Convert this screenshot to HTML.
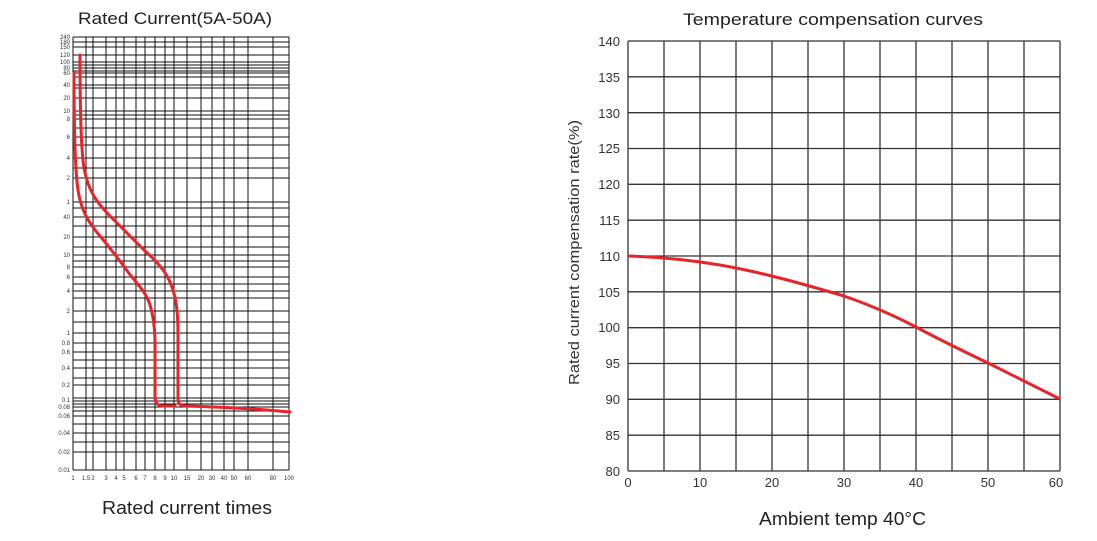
<!DOCTYPE html>
<html><head><meta charset="utf-8"><style>
html,body{margin:0;padding:0;background:#fff;}
svg{display:block;font-family:"Liberation Sans",sans-serif;}
</style></head><body>
<svg width="1097" height="541" viewBox="0 0 1097 541" xmlns="http://www.w3.org/2000/svg">
<rect width="1097" height="541" fill="#fff"/>
<!-- LEFT CHART -->
<text x="78" y="24" font-size="17" textLength="194" lengthAdjust="spacingAndGlyphs" fill="#222">Rated Current(5A-50A)</text>
<g stroke="#111" stroke-width="1">
<line x1="73" y1="37" x2="73" y2="470"/><line x1="86" y1="37" x2="86" y2="470"/><line x1="93" y1="37" x2="93" y2="470"/>
<line x1="106" y1="37" x2="106" y2="470"/><line x1="116" y1="37" x2="116" y2="470"/><line x1="124" y1="37" x2="124" y2="470"/>
<line x1="136" y1="37" x2="136" y2="470"/><line x1="145" y1="37" x2="145" y2="470"/><line x1="155" y1="37" x2="155" y2="470"/>
<line x1="165" y1="37" x2="165" y2="470"/><line x1="174" y1="37" x2="174" y2="470"/><line x1="187" y1="37" x2="187" y2="470"/>
<line x1="201" y1="37" x2="201" y2="470"/><line x1="212" y1="37" x2="212" y2="470"/><line x1="224" y1="37" x2="224" y2="470"/>
<line x1="234" y1="37" x2="234" y2="470"/><line x1="248" y1="37" x2="248" y2="470"/><line x1="273" y1="37" x2="273" y2="470"/>
<line x1="289" y1="37" x2="289" y2="470"/>
</g>
<g stroke="#111" stroke-width="1">
<path d="M73 37H289M73 42H289M73 47H289M73 55H289M73 62H289M73 65H289M73 68H289M73 71H289M73 73H289M73 77H289M73 85H289M73 88H289M73 98H289M73 111H289M73 115H289M73 119H289M73 128H289M73 137H289M73 145H289M73 158H289M73 168H289M73 178H289M73 202H289M73 208H289M73 217H289M73 226H289M73 237H289M73 247H289M73 255H289M73 261H289M73 267H289M73 277H289M73 284H289M73 291H289M73 298H289M73 311H289M73 322H289M73 333H289M73 343H289M73 352H289M73 360H289M73 368H289M73 378H289M73 385H289M73 398H289M73 401H289M73 404H289M73 407H289M73 411H289M73 416H289M73 424H289M73 433H289M73 442H289M73 452H289M73 470H289"/>
</g>
<g font-size="6" fill="#333" text-anchor="end">
<text x="70" y="39">240</text><text x="70" y="44">180</text><text x="70" y="49">150</text><text x="70" y="57">120</text><text x="70" y="64">100</text><text x="70" y="70">80</text><text x="70" y="75">60</text><text x="70" y="87">40</text><text x="70" y="100">20</text><text x="70" y="113">10</text><text x="70" y="121">8</text><text x="70" y="139">6</text><text x="70" y="160">4</text><text x="70" y="180">2</text><text x="70" y="204">1</text><text x="70" y="219">40</text><text x="70" y="239">20</text><text x="70" y="257">10</text><text x="70" y="269">8</text><text x="70" y="279">6</text><text x="70" y="293">4</text><text x="70" y="313">2</text><text x="70" y="335">1</text><text x="70" y="345">0.8</text><text x="70" y="354">0.6</text><text x="70" y="370">0.4</text><text x="70" y="387">0.2</text><text x="70" y="402">0.1</text><text x="70" y="409">0.08</text><text x="70" y="418">0.06</text><text x="70" y="435">0.04</text><text x="70" y="454">0.02</text><text x="70" y="472">0.01</text>
</g>
<g font-size="6" fill="#333" text-anchor="middle">
<text x="73" y="480">1</text><text x="86" y="480">1.5</text><text x="93" y="480">2</text><text x="106" y="480">3</text><text x="116" y="480">4</text><text x="124" y="480">5</text><text x="136" y="480">6</text><text x="145" y="480">7</text><text x="155" y="480">8</text><text x="165" y="480">9</text><text x="174" y="480">10</text><text x="187" y="480">15</text><text x="201" y="480">20</text><text x="212" y="480">30</text><text x="224" y="480">40</text><text x="234" y="480">50</text><text x="248" y="480">60</text><text x="273" y="480">80</text><text x="289" y="480">100</text>
</g>
<g fill="none" stroke="#e8232a" stroke-width="3" stroke-linejoin="round" stroke-linecap="round">
<path d="M74 73 C74 130 75 170 78 190 C81 210 88 222 100 236 C110 248 118 258 128 272 C138 285 146 292 150 305 C154 318 155 330 155 345 L155 396 C155 404 158 406 164 406 L175 406"/>
<path d="M80 55 C80 110 81 150 84 168 C88 190 96 202 110 216 C122 228 132 238 144 250 C155 260 165 270 170 282 C176 296 178 310 178 335 L178 398 C178 404 180 406 186 406 C220 407 260 409 290 412"/>
</g>
<text x="102" y="514" font-size="18" textLength="170" lengthAdjust="spacingAndGlyphs" fill="#222">Rated current times</text>

<!-- RIGHT CHART -->
<text x="683" y="25" font-size="17" textLength="300" lengthAdjust="spacingAndGlyphs" fill="#222">Temperature compensation curves</text>
<g stroke="#333" stroke-width="1.3">
<path d="M628 41V471M664 41V471M700 41V471M736 41V471M772 41V471M808 41V471M844 41V471M880 41V471M916 41V471M952 41V471M988 41V471M1024 41V471M1060 41V471"/>
<path d="M628 41H1060M628 76.8H1060M628 112.7H1060M628 148.5H1060M628 184.3H1060M628 220.2H1060M628 256H1060M628 291.8H1060M628 327.7H1060M628 363.5H1060M628 399.3H1060M628 435.2H1060M628 471H1060"/>
</g>
<g font-size="13" fill="#333" text-anchor="end">
<text x="620" y="46">140</text><text x="620" y="82">135</text><text x="620" y="118">130</text><text x="620" y="153">125</text><text x="620" y="189">120</text><text x="620" y="225">115</text><text x="620" y="261">110</text><text x="620" y="297">105</text><text x="620" y="332">100</text><text x="620" y="368">95</text><text x="620" y="404">90</text><text x="620" y="440">85</text><text x="620" y="476">80</text>
</g>
<g font-size="13" fill="#333" text-anchor="middle">
<text x="628" y="487">0</text><text x="700" y="487">10</text><text x="772" y="487">20</text><text x="844" y="487">30</text><text x="916" y="487">40</text><text x="988" y="487">50</text><text x="1056" y="487">60</text>
</g>
<text transform="translate(579,385) rotate(-90)" font-size="15" textLength="265" lengthAdjust="spacingAndGlyphs" fill="#333">Rated current compensation rate(%)</text>
<text x="759" y="525" font-size="18" textLength="167" lengthAdjust="spacingAndGlyphs" fill="#222">Ambient temp 40°C</text>
<path d="M628 256 C660 257 690 260 720 265 C760 272 800 283 844 296 C870 305 895 316 916 327 C940 340 965 352 988 363 C1012 375 1036 387 1060 399" fill="none" stroke="#e8232a" stroke-width="3"/>
</svg>
</body></html>
